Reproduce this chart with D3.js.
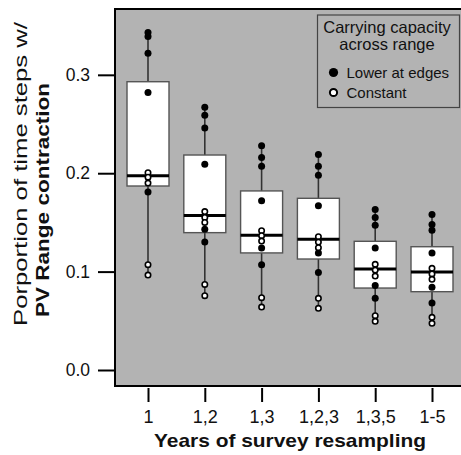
<!DOCTYPE html>
<html lang="en">
<head>
  <meta charset="UTF-8">
  <title>Range contraction boxplot</title>
  <script src="https://d3js.org/d3.v7.min.js"></script>
  <style>
    body {
      margin: 0;
      overflow: hidden;
      background-color: #fff;
      font-family: "Liberation Sans", Arial, sans-serif;
    }
    .axis text { font-family: "Liberation Sans", Arial, sans-serif; fill: #111; }
    .axis line { stroke: #000; stroke-width: 2px; }
    .axis path { display: none; }
  </style>
</head>
<body>
<svg width="461" height="455"></svg>
<script>
  const categories = ["1", "1,2", "1,3", "1,2,3", "1,3,5", "1-5"];
  const yTicks = [0, 0.1, 0.2, 0.3];

  // box stats
  const q1 = [0.187, 0.1396, 0.119, 0.1128, 0.0833, 0.0796];
  const median = [0.1975, 0.157, 0.137, 0.1328, 0.1026, 0.0996];
  const q3 = [0.293, 0.2185, 0.182, 0.1745, 0.1308, 0.1253];

  // carrying capacity lower at edges (filled dots)
  const lowerAtEdges = [
    [0.343, 0.339, 0.322, 0.282, 0.181],
    [0.267, 0.259, 0.246, 0.209, 0.143, 0.130],
    [0.228, 0.216, 0.207, 0.172, 0.124, 0.107],
    [0.219, 0.207, 0.198, 0.167, 0.119, 0.099],
    [0.163, 0.155, 0.147, 0.124, 0.086, 0.073],
    [0.158, 0.148, 0.142, 0.119, 0.084, 0.068]
  ];
  // constant carrying capacity (open dots)
  const constant = [
    [0.2005, 0.196, 0.190, 0.107, 0.0965],
    [0.161, 0.155, 0.150, 0.087, 0.0755],
    [0.1416, 0.1365, 0.131, 0.0735, 0.064],
    [0.1355, 0.130, 0.1243, 0.0728, 0.0627],
    [0.1074, 0.1016, 0.0955, 0.0552, 0.0495],
    [0.1033, 0.0976, 0.0922, 0.0535, 0.0474]
  ];

  const plot = { left: 115, top: 9, bottom: 386, right: 520 };

  const svg = d3.select("svg");

  const x = d3.scalePoint().domain(categories).range([148, 432]);
  const y = d3.scaleLinear().domain([-0.01626, 0.3669]).range([plot.bottom, plot.top]);

  svg.append("rect")
    .attr("x", plot.left).attr("y", plot.top)
    .attr("width", plot.right - plot.left).attr("height", plot.bottom - plot.top)
    .attr("fill", "#b3b3b3").attr("stroke", "#000").attr("stroke-width", 2);

  const groups = categories.map((c, i) => ({
    cat: c,
    q1: q1[i], med: median[i], q3: q3[i],
    filled: lowerAtEdges[i], open: constant[i],
    lo: d3.min(lowerAtEdges[i].concat(constant[i])),
    hi: d3.max(lowerAtEdges[i].concat(constant[i]))
  }));

  const bw = 42;
  const g = svg.append("g");

  g.selectAll("line.whisker")
    .data(groups)
    .join("line")
    .attr("class", "whisker")
    .attr("x1", d => x(d.cat)).attr("x2", d => x(d.cat))
    .attr("y1", d => y(d.hi)).attr("y2", d => y(d.lo))
    .attr("stroke", "#333").attr("stroke-width", 1.6);

  g.selectAll("rect.box")
    .data(groups)
    .join("rect")
    .attr("class", "box")
    .attr("x", d => x(d.cat) - bw / 2)
    .attr("y", d => y(d.q3))
    .attr("width", bw)
    .attr("height", d => y(d.q1) - y(d.q3))
    .attr("fill", "#fff").attr("stroke", "#555").attr("stroke-width", 1.4);

  g.selectAll("line.median")
    .data(groups)
    .join("line")
    .attr("class", "median")
    .attr("x1", d => x(d.cat) - bw / 2).attr("x2", d => x(d.cat) + bw / 2)
    .attr("y1", d => y(d.med)).attr("y2", d => y(d.med))
    .attr("stroke", "#000").attr("stroke-width", 3);

  const filledPts = groups.flatMap(d => d.filled.map(v => ({ cat: d.cat, v })));
  const openPts = groups.flatMap(d => d.open.map(v => ({ cat: d.cat, v })));

  g.selectAll("circle.filled")
    .data(filledPts)
    .join("circle")
    .attr("class", "filled")
    .attr("cx", d => x(d.cat)).attr("cy", d => y(d.v))
    .attr("r", 3.5).attr("fill", "#000");

  g.selectAll("circle.open")
    .data(openPts)
    .join("circle")
    .attr("class", "open")
    .attr("cx", d => x(d.cat)).attr("cy", d => y(d.v))
    .attr("r", 2.7).attr("fill", "#fff").attr("stroke", "#000").attr("stroke-width", 1.6);

  // axes
  const yAxis = svg.append("g")
    .attr("class", "axis")
    .attr("transform", `translate(${plot.left - 1},0)`)
    .call(d3.axisLeft(y).tickValues(yTicks).tickFormat(d3.format(".1f")).tickSize(16).tickPadding(8));
  yAxis.selectAll("text").attr("font-size", 17.5);

  const xAxis = svg.append("g")
    .attr("class", "axis")
    .attr("transform", `translate(0,${plot.bottom + 2})`)
    .call(d3.axisBottom(x).tickSize(14));
  xAxis.selectAll("text").attr("font-size", 18).attr("y", 35).attr("dy", 0);

  // axis titles
  svg.append("text")
    .attr("x", 290).attr("y", 447)
    .attr("text-anchor", "middle")
    .attr("font-size", 19).attr("font-weight", "bold").attr("fill", "#111")
    .attr("textLength", 272).attr("lengthAdjust", "spacingAndGlyphs")
    .text("Years of survey resampling");

  svg.append("text")
    .attr("transform", "translate(27,174) rotate(-90)")
    .attr("text-anchor", "middle")
    .attr("font-size", 18).attr("fill", "#111")
    .attr("textLength", 304).attr("lengthAdjust", "spacingAndGlyphs")
    .text("Porportion of time steps w/");

  svg.append("text")
    .attr("transform", "translate(49,200) rotate(-90)")
    .attr("text-anchor", "middle")
    .attr("font-size", 18).attr("font-weight", "bold").attr("fill", "#111")
    .attr("textLength", 234).attr("lengthAdjust", "spacingAndGlyphs")
    .text("PV Range contraction");

  // legend
  const legend = svg.append("g");
  legend.append("rect")
    .attr("x", 317.5).attr("y", 15).attr("width", 142).attr("height", 92.5)
    .attr("fill", "none").attr("stroke", "#444").attr("stroke-width", 1.2);
  legend.append("text")
    .attr("x", 387).attr("y", 33).attr("text-anchor", "middle")
    .attr("font-size", 16.5).attr("fill", "#111").text("Carrying capacity");
  legend.append("text")
    .attr("x", 387).attr("y", 50).attr("text-anchor", "middle")
    .attr("font-size", 16.5).attr("fill", "#111").text("across range");
  legend.append("circle")
    .attr("cx", 333.5).attr("cy", 72.5).attr("r", 4.6).attr("fill", "#000");
  legend.append("text")
    .attr("x", 346.5).attr("y", 77.5)
    .attr("font-size", 15).attr("fill", "#111").text("Lower at edges");
  legend.append("circle")
    .attr("cx", 333.5).attr("cy", 92.5).attr("r", 3.6)
    .attr("fill", "#fff").attr("stroke", "#000").attr("stroke-width", 2);
  legend.append("text")
    .attr("x", 346.5).attr("y", 97.5)
    .attr("font-size", 15).attr("fill", "#111").text("Constant");
</script>
</body>
</html>
